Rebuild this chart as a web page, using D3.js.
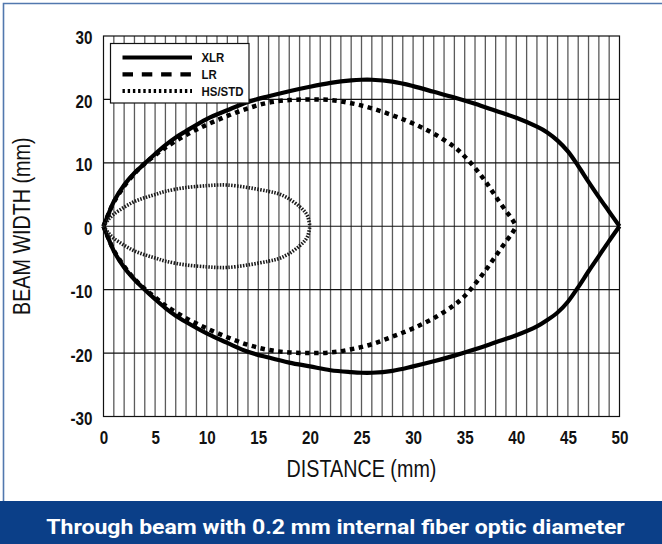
<!DOCTYPE html>
<html>
<head>
<meta charset="utf-8">
<script src="https://cdn.jsdelivr.net/npm/d3@7/dist/d3.min.js"></script>
<style>
  html, body { margin: 0; padding: 0; background: #fff; }
  svg { display: block; }
</style>
</head>
<body>
<svg id="chart" width="662" height="544"></svg>
<script>
// ---------------- data ----------------
const xTickValues = [0, 5, 10, 15, 20, 25, 30, 35, 40, 45, 50];
const yTickValues = [-30, -20, -10, 0, 10, 20, 30];
const seriesNames = ["XLR", "LR", "HS/STD"];

const xlrX =     [0, 0.5, 1, 2, 3, 4, 5, 6, 7, 8, 10, 12, 14, 16, 18, 20, 22, 24, 25, 26, 28, 30, 32, 34, 36, 38, 40, 42, 43, 44, 45, 46, 47, 48, 49, 50];
const xlrUpper = [0, 2.0, 3.9, 6.5, 8.4, 9.9, 11.4, 12.8, 14.0, 15.0, 16.9, 18.3, 19.6, 20.5, 21.3, 22.0, 22.6, 23.0, 23.1, 23.1, 22.8, 22.1, 21.2, 20.3, 19.3, 18.2, 17.1, 15.7, 14.8, 13.5, 11.8, 9.5, 7.0, 4.6, 2.3, 0];
const xlrLower = [0, -2.0, -3.9, -6.5, -8.4, -10.0, -11.5, -12.9, -14.1, -15.1, -16.9, -18.4, -19.8, -20.7, -21.5, -22.1, -22.7, -23.0, -23.1, -23.1, -22.8, -22.1, -21.3, -20.4, -19.4, -18.3, -17.2, -15.8, -14.8, -13.6, -11.9, -9.6, -7.1, -4.7, -2.3, 0];

const lrX =      [0, 0.5, 1, 2, 3, 4, 5, 6, 8, 10, 12, 14, 16, 18, 20, 22, 24, 26, 28, 30, 32, 34, 35, 36, 37, 38, 39, 39.6, 40];
const lrUpper =  [0, 2.0, 3.8, 6.3, 8.3, 9.9, 11.2, 12.4, 14.4, 16.0, 17.4, 18.6, 19.5, 19.9, 20.0, 19.9, 19.4, 18.6, 17.5, 16.2, 14.6, 12.5, 11.0, 9.2, 7.1, 4.7, 2.4, 1.1, 0];
const lrLower =  [0, -2.0, -3.8, -6.3, -8.3, -9.9, -11.2, -12.5, -14.5, -16.1, -17.5, -18.7, -19.5, -19.9, -20.0, -19.9, -19.4, -18.6, -17.4, -16.1, -14.5, -12.4, -11.0, -9.1, -7.0, -4.7, -2.4, -1.1, 0];

const hsX =      [0, 0.5, 1, 2, 3, 4, 5, 6, 8, 10, 11, 12, 14, 16, 17, 18, 19, 19.5, 19.8, 20];
const hsUpper =  [0, 1.1, 1.9, 3.0, 3.9, 4.5, 5.0, 5.5, 6.1, 6.4, 6.5, 6.5, 6.1, 5.5, 5.1, 4.3, 3.1, 2.3, 1.5, 0];
const hsLower =  [0, -1.1, -1.9, -3.0, -3.9, -4.5, -5.0, -5.5, -6.1, -6.4, -6.5, -6.5, -6.1, -5.5, -5.1, -4.3, -3.1, -2.3, -1.5, 0];

const titleText = "Through beam with 0.2 mm internal fiber optic diameter";
const xAxisTitle = "DISTANCE (mm)";
const yAxisTitle = "BEAM WIDTH (mm)";

// ---------------- layout ----------------
const svg = d3.select("#chart");
const W = 662, H = 544;
const plot = { left: 103.5, right: 619.5, top: 36, bottom: 416.5 };

const x = d3.scaleLinear().domain([0, 50]).range([plot.left, plot.right]);
const y = d3.scaleLinear().domain([-30, 30]).range([plot.bottom, plot.top]);

const sans = "'Liberation Sans', Arial, Helvetica, sans-serif";
const squeeze = 0.8;   // condensed look

// outer frame
svg.append("path")
  .attr("d", `M3.5,501 L3.5,3.5 L${W},3.5`)
  .attr("fill", "none").attr("stroke", "#5278ae").attr("stroke-width", 1.6);

// grid: vertical every 1 mm
const gx = svg.append("g");
gx.selectAll("line.v").data(d3.range(1, 50, 1)).join("line")
  .attr("class", "v")
  .attr("x1", d => x(d)).attr("x2", d => x(d))
  .attr("y1", plot.top).attr("y2", plot.bottom)
  .attr("stroke", "#5a5a5a").attr("stroke-width", 1.3);
// horizontal every 10
gx.selectAll("line.h").data(yTickValues.slice(1, -1)).join("line")
  .attr("class", "h")
  .attr("x1", plot.left).attr("x2", plot.right)
  .attr("y1", d => y(d)).attr("y2", d => y(d))
  .attr("stroke", "#111").attr("stroke-width", 1.2);
// border
svg.append("rect")
  .attr("x", plot.left).attr("y", plot.top)
  .attr("width", plot.right - plot.left).attr("height", plot.bottom - plot.top)
  .attr("fill", "none").attr("stroke", "#111").attr("stroke-width", 1.2);

// axes (labels only)
const fmt = d => String(d);
const xAxis = d3.axisBottom(x).tickValues(xTickValues).tickSize(0).tickPadding(0).tickFormat(fmt);
const gX = svg.append("g").attr("transform", `translate(0,${plot.bottom + 13.5})`).call(xAxis);
gX.select(".domain").remove();
gX.selectAll("text").attr("font-family", sans).attr("font-weight", "bold")
  .attr("font-size", 19).attr("fill", "#111").attr("dy", "0.72em")
  .attr("transform", `scale(${squeeze},1)`);

const yAxis = d3.axisLeft(y).tickValues(yTickValues).tickSize(0).tickPadding(11 / squeeze).tickFormat(fmt);
const gY = svg.append("g").attr("transform", `translate(${plot.left},0)`).call(yAxis);
gY.select(".domain").remove();
gY.selectAll("text").attr("font-family", sans).attr("font-weight", "bold")
  .attr("font-size", 19).attr("fill", "#111").attr("dy", "0.42em")
  .attr("transform", `scale(${squeeze},1)`);

// axis titles
svg.append("text")
  .attr("transform", `translate(${(plot.left + plot.right) / 2},476.5) scale(0.84,1)`)
  .attr("text-anchor", "middle")
  .attr("font-family", sans).attr("font-size", 23.5).attr("fill", "#111")
  .text(xAxisTitle);
svg.append("text")
  .attr("transform", `translate(30,${(plot.top + plot.bottom) / 2}) rotate(-90) scale(0.84,1)`)
  .attr("text-anchor", "middle")
  .attr("font-family", sans).attr("font-size", 23.5).attr("fill", "#111")
  .text(yAxisTitle);

// ---------------- curves ----------------
const line = d3.line().x(d => x(d[0])).y(d => y(d[1])).curve(d3.curveCatmullRom.alpha(0.5));
const styles = {
  "XLR":    { width: 4.2, dash: null, color: "#000" },
  "LR":     { width: 4.5, dash: "4.5,4.5", color: "#000" },
  "HS/STD": { width: 3.6, dash: "1.5,1.4", color: "#1a1a1a" }
};
const series = [
  { name: "XLR", xs: xlrX, up: xlrUpper, lo: xlrLower },
  { name: "LR", xs: lrX, up: lrUpper, lo: lrLower },
  { name: "HS/STD", xs: hsX, up: hsUpper, lo: hsLower }
];
const gC = svg.append("g");
series.forEach(s => {
  const st = styles[s.name];
  [s.up, s.lo].forEach(vals => {
    gC.append("path")
      .datum(s.xs.map((xv, i) => [xv, vals[i]]))
      .attr("d", line)
      .attr("fill", "none")
      .attr("stroke", st.color)
      .attr("stroke-width", st.width)
      .attr("stroke-dasharray", st.dash)
      .attr("stroke-linejoin", "round");
  });
});

// ---------------- legend ----------------
const lg = svg.append("g");
lg.append("rect").attr("x", 110.5).attr("y", 43.5).attr("width", 138.5).attr("height", 59.5)
  .attr("fill", "#fff").attr("stroke", "#111").attr("stroke-width", 1.2);
const legendStyles = {
  "XLR":    { width: 4.2, dash: null },
  "LR":     { width: 4.2, dash: "10.5,8.8" },
  "HS/STD": { width: 4.0, dash: "2.4,2.8" }
};
seriesNames.forEach((n, i) => {
  const ly = 57.5 + i * 16.8;
  const st = legendStyles[n];
  lg.append("line").attr("x1", 122.5).attr("x2", 192).attr("y1", ly).attr("y2", ly)
    .attr("stroke", "#000").attr("stroke-width", st.width).attr("stroke-dasharray", st.dash);
  lg.append("text")
    .attr("transform", `translate(201.5,${ly}) scale(0.88,1)`)
    .attr("dy", "0.36em")
    .attr("font-family", sans).attr("font-weight", "bold")
    .attr("font-size", 13).attr("fill", "#111").text(n);
});

// ---------------- bottom banner ----------------
svg.append("rect").attr("x", 0).attr("y", 501).attr("width", W).attr("height", H - 501)
  .attr("fill", "#0b3f88");
const t = svg.append("text")
  .attr("text-anchor", "middle")
  .attr("font-family", "Roboto, 'Open Sans', sans-serif").attr("font-weight", "bold")
  .attr("font-size", 20.5).attr("fill", "#fff")
  .text(titleText);
const len = t.node().getComputedTextLength();
const sx = len > 0 ? 579 / len : 1;
t.attr("transform", `translate(335.5,533.5) scale(${sx},1)`);
</script>
</body>
</html>
